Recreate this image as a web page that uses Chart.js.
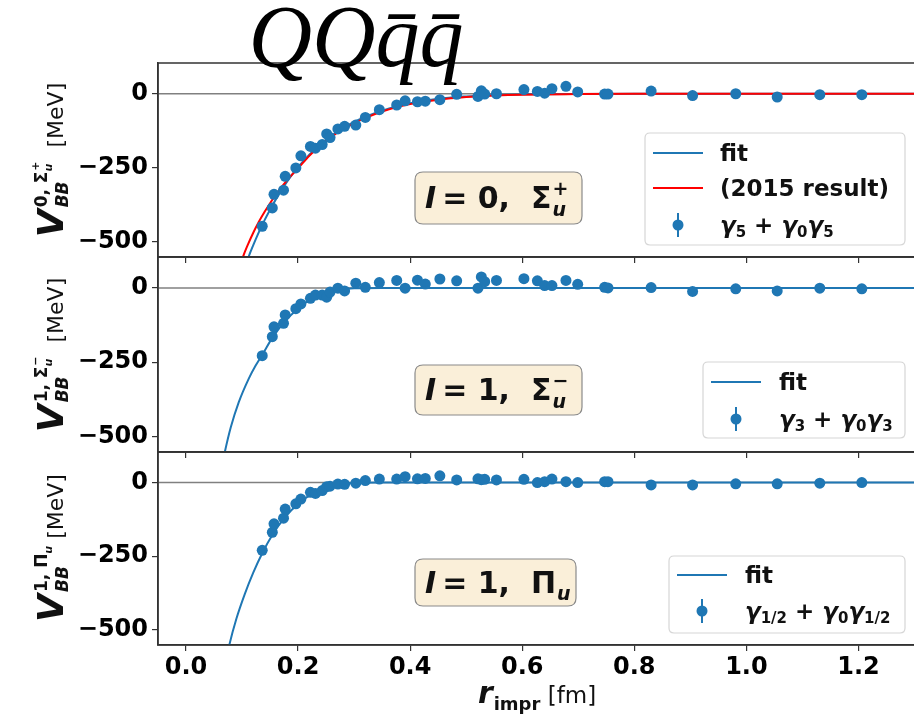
<!DOCTYPE html>
<html><head><meta charset="utf-8">
<script src="https://cdn.jsdelivr.net/npm/chart.js@4/dist/chart.umd.min.js"></script>
<style>
html,body{margin:0;padding:0;background:#fff;overflow:hidden;width:914px;height:718px}
canvas{position:absolute;left:0;top:0}
</style></head><body>
<canvas id="c1" width="920" height="718"></canvas>
<canvas id="c2" width="920" height="718"></canvas>
<canvas id="c3" width="920" height="718"></canvas>
<script>
// ---- data ----
const xTicks = [0.0, 0.2, 0.4, 0.6, 0.8, 1.0, 1.2];
const yTicks = [-500, -250, 0];
const rData = [0.136,0.154,0.157,0.174,0.177,0.196,0.205,0.222,0.231,0.243,0.251,0.257,0.271,0.283,0.303,0.320,0.345,0.376,0.391,0.413,0.427,0.453,0.483,0.521,0.527,0.533,0.554,0.603,0.627,0.640,0.653,0.678,0.699,0.747,0.753,0.830,0.904,0.981,1.055,1.131,1.206];
const vSigmaPlus = [-448,-386,-340,-326,-279,-251,-210,-178,-184,-172,-136,-148,-119,-110,-106,-80,-54,-38,-24,-27,-25,-20,-2,-9,10,-1,0,14,8,2,17,25,6,-1,-1,9,-6,0,-11,-3,-3];
const vSigmaMinus = [-228,-164,-131,-119,-91,-70,-54,-35,-24,-24,-31,-14,-1,-10,16,2,18,25,-1,26,13,30,24,-1,37,21,25,31,24,8,8,25,12,2,0,1,-12,-3,-10,-1,-3];
const vPi = [-230,-169,-140,-121,-90,-72,-56,-33,-37,-27,-14,-12,-5,-6,-2,7,12,12,20,13,14,23,9,13,10,11,9,11,0,3,12,3,0,3,3,-8,-8,-4,-4,-2,0];
// fit curves
const fitR1 = [0.105,0.112,0.12,0.13,0.14,0.15,0.16,0.17,0.18,0.19,0.2,0.22,0.24,0.26,0.28,0.3,0.325,0.35,0.375,0.4,0.45,0.5,0.55,0.6,0.7,0.8,1.3];
const fitV1 = [-590,-550,-512,-468,-428,-392,-358,-327,-298,-272,-248,-206,-171,-141,-116,-95,-74,-57,-43,-32,-17,-9,-4,-2,-0.5,0,0];
const oldR1 = [0.095,0.102,0.11,0.12,0.13,0.14,0.15,0.16,0.175,0.19,0.2,0.22,0.24,0.26,0.28,0.3,0.325,0.35,0.375,0.4,0.45,0.5,0.55,0.6,0.7,0.8,1.3];
const oldV1 = [-595,-550,-512,-470,-433,-400,-370,-342,-305,-272,-252,-210,-175,-145,-120,-99,-78,-60,-46,-35,-20,-11,-6,-3,-1,0,0];
const fitR2 = [0.064,0.069,0.08,0.094,0.112,0.124,0.136,0.154,0.175,0.2,0.225,0.25,0.275,0.3,0.35,1.3];
const fitV2 = [-600,-554,-468,-385,-305,-262,-225,-168,-116,-69,-36,-16,-6,-1.5,0,0];
const fitR3 = [0.072,0.077,0.09,0.105,0.12,0.136,0.154,0.175,0.2,0.225,0.25,0.275,0.3,0.35,1.3];
const fitV3 = [-600,-554,-462,-378,-306,-240,-178,-122,-72,-38,-17,-6,-1.5,0,0];
const zeroR = [-0.05, 1.3];
const zeroV = [0, 0];

const BLUE = '#1f77b4', RED = '#ff0000', INK = '#111';
const pts = (xs, ys) => xs.map((x, i) => ({x, y: ys[i]}));

// ---- rich text helper ----
function rich(ctx, runs, x0, y0, draw) {
  let x = x0, markX = x0, maxX = x0;
  for (const r of runs) {
    if (r.mark) markX = x;
    if (r.back) x = markX;
    ctx.font = r.f;
    if (draw) ctx.fillText(r.t, x, y0 + (r.dy || 0));
    x += ctx.measureText(r.t).width + (r.gap || 0);
    maxX = Math.max(maxX, x);
    if (r.end) x = maxX;
  }
  return maxX - x0;
}
function richCentered(ctx, runs, cx, y) {
  const w = rich(ctx, runs, 0, 0, false);
  rich(ctx, runs, cx - w / 2, y, true);
}
function yLabel(ctx, runs, cx, cy) {
  ctx.save();
  ctx.translate(cx, cy); ctx.rotate(-Math.PI / 2);
  ctx.fillStyle = INK; ctx.textBaseline = 'alphabetic'; ctx.textAlign = 'left';
  richCentered(ctx, runs, 0, 0);
  ctx.restore();
}
function roundRect(ctx, x, y, w, h, r) {
  ctx.beginPath();
  ctx.moveTo(x + r, y); ctx.lineTo(x + w - r, y); ctx.quadraticCurveTo(x + w, y, x + w, y + r);
  ctx.lineTo(x + w, y + h - r); ctx.quadraticCurveTo(x + w, y + h, x + w - r, y + h);
  ctx.lineTo(x + r, y + h); ctx.quadraticCurveTo(x, y + h, x, y + h - r);
  ctx.lineTo(x, y + r); ctx.quadraticCurveTo(x, y, x + r, y); ctx.closePath();
}
function annBox(ctx, box, runs) {
  ctx.save();
  roundRect(ctx, box.x, box.y, box.w, box.h, 8);
  ctx.fillStyle = '#faefd9'; ctx.fill();
  ctx.strokeStyle = '#8a8a8a'; ctx.lineWidth = 1.2; ctx.stroke();
  ctx.fillStyle = INK; ctx.textBaseline = 'alphabetic'; ctx.textAlign = 'left';
  rich(ctx, runs, box.tx, box.ty, true);
  ctx.restore();
}
function legendBox(ctx, box, entries) {
  ctx.save();
  roundRect(ctx, box.x, box.y, box.w, box.h, 5);
  ctx.fillStyle = 'rgba(255,255,255,0.85)'; ctx.fill();
  ctx.strokeStyle = '#d6d6d6'; ctx.lineWidth = 1.2; ctx.stroke();
  ctx.textBaseline = 'alphabetic'; ctx.textAlign = 'left';
  for (const e of entries) {
    const lx = box.x + 8;
    if (e.kind === 'line') {
      ctx.strokeStyle = e.color; ctx.lineWidth = 2;
      ctx.beginPath(); ctx.moveTo(lx, e.y); ctx.lineTo(lx + 50, e.y); ctx.stroke();
    } else {
      ctx.strokeStyle = e.color; ctx.lineWidth = 2;
      ctx.beginPath(); ctx.moveTo(lx + 25, e.y - 12); ctx.lineTo(lx + 25, e.y + 12); ctx.stroke();
      ctx.fillStyle = e.color; ctx.beginPath(); ctx.arc(lx + 25, e.y, 5.5, 0, 2 * Math.PI); ctx.fill();
    }
    ctx.fillStyle = INK;
    rich(ctx, e.runs, box.tx, e.y + 8, true);
  }
  ctx.restore();
}

const B = 'bold 23px "DejaVu Sans"', BI = 'italic bold 23px "DejaVu Sans"', BS = 'bold 15px "DejaVu Sans"';
const fitRuns = [{t: 'fit', f: B}];

// ---- plugin per panel ----
function decor(idx) {
  return {
    id: 'decor' + idx,
    afterDatasetsDraw(chart) {
      const ctx = chart.ctx, a = chart.chartArea;
      ctx.save();
      ctx.strokeStyle = '#333'; ctx.lineWidth = 1.5;
      ctx.beginPath();
      ctx.moveTo(a.right + 2, a.top); ctx.lineTo(a.left, a.top); ctx.lineTo(a.left, a.bottom); ctx.lineTo(a.right + 2, a.bottom);
      ctx.stroke();
      ctx.restore();
    },
    afterDraw(chart) {
      const ctx = chart.ctx;
      const VF = 'italic bold 36px "DejaVu Sans"', SF = 'bold 17px "DejaVu Sans"', SIF = 'italic bold 17px "DejaVu Sans"',
            TF = 'italic bold 11px "DejaVu Sans"', TB = 'bold 11px "DejaVu Sans"', MF = '22px "DejaVu Sans"';
      const AF = 'bold 30px "DejaVu Sans"', AIF = 'italic bold 30px "DejaVu Sans"', AS = 'bold 19px "DejaVu Sans"', ASI = 'italic bold 19px "DejaVu Sans"';
      if (idx === 0) {
        yLabel(ctx, [
          {t: 'V', f: VF, gap: 2},
          {t: '0, Σ', f: SF, dy: -16, mark: true},
          {t: 'u', f: TF, dy: -11, gap: -7},
          {t: '+', f: TB, dy: -24},
          {t: 'BB', f: SIF, dy: 5, back: true, end: true},
          {t: '  [MeV]', f: MF}
        ], 63, 160);
        annBox(ctx, {x: 415, y: 172, w: 167, h: 52, tx: 425, ty: 208}, [
          {t: 'I', f: AIF, gap: 6}, {t: '= 0,  Σ', f: AF, gap: 1},
          {t: '+', f: AS, dy: -13, mark: true}, {t: 'u', f: ASI, dy: 8, back: true, end: true}
        ]);
        legendBox(ctx, {x: 645, y: 133, w: 260, h: 112, tx: 720}, [
          {kind: 'line', color: BLUE, y: 153, runs: fitRuns},
          {kind: 'line', color: RED, y: 188, runs: [{t: '(2015 result)', f: B}]},
          {kind: 'err', color: BLUE, y: 225, runs: [
            {t: 'γ', f: BI}, {t: '5', f: BS, dy: 4}, {t: ' + ', f: B}, {t: 'γ', f: BI}, {t: '0', f: BS, dy: 4},
            {t: 'γ', f: BI}, {t: '5', f: BS, dy: 4}]}
        ]);
        // title
        ctx.save();
        ctx.fillStyle = '#000'; ctx.textAlign = 'center'; ctx.textBaseline = 'alphabetic';
        ctx.font = 'italic 88px "Liberation Serif"';
        ctx.fillText('QQq\u0304q\u0304', 356, 66);
        ctx.restore();
      } else if (idx === 1) {
        yLabel(ctx, [
          {t: 'V', f: VF, gap: 2},
          {t: '1, Σ', f: SF, dy: -16, mark: true},
          {t: 'u', f: TF, dy: -11, gap: -7},
          {t: '−', f: TB, dy: -24},
          {t: 'BB', f: SIF, dy: 5, back: true, end: true},
          {t: '  [MeV]', f: MF}
        ], 63, 355);
        annBox(ctx, {x: 415, y: 365, w: 167, h: 50, tx: 425, ty: 400}, [
          {t: 'I', f: AIF, gap: 6}, {t: '= 1,  Σ', f: AF, gap: 1},
          {t: '−', f: AS, dy: -13, mark: true}, {t: 'u', f: ASI, dy: 8, back: true, end: true}
        ]);
        legendBox(ctx, {x: 703, y: 362, w: 202, h: 76, tx: 779}, [
          {kind: 'line', color: BLUE, y: 382, runs: fitRuns},
          {kind: 'err', color: BLUE, y: 419, runs: [
            {t: 'γ', f: BI}, {t: '3', f: BS, dy: 4}, {t: ' + ', f: B}, {t: 'γ', f: BI}, {t: '0', f: BS, dy: 4},
            {t: 'γ', f: BI}, {t: '3', f: BS, dy: 4}]}
        ]);
      } else {
        yLabel(ctx, [
          {t: 'V', f: VF, gap: 2},
          {t: '1, Π', f: SF, dy: -16, mark: true},
          {t: 'u', f: TF, dy: -11},
          {t: 'BB', f: SIF, dy: 5, back: true, end: true},
          {t: ' [MeV]', f: MF}
        ], 63, 548);
        annBox(ctx, {x: 415, y: 559, w: 161, h: 47, tx: 425, ty: 593}, [
          {t: 'I', f: AIF, gap: 6}, {t: '= 1,  Π', f: AF, gap: 1},
          {t: 'u', f: ASI, dy: 7}
        ]);
        legendBox(ctx, {x: 669, y: 556, w: 236, h: 77, tx: 745}, [
          {kind: 'line', color: BLUE, y: 575, runs: fitRuns},
          {kind: 'err', color: BLUE, y: 611, runs: [
            {t: 'γ', f: BI}, {t: '1/2', f: BS, dy: 4}, {t: ' + ', f: B}, {t: 'γ', f: BI}, {t: '0', f: BS, dy: 4},
            {t: 'γ', f: BI}, {t: '1/2', f: BS, dy: 4}]}
        ]);
        // x-axis title
        ctx.save();
        ctx.fillStyle = INK; ctx.textAlign = 'left'; ctx.textBaseline = 'alphabetic';
        richCentered(ctx, [
          {t: 'r', f: 'italic bold 30px "DejaVu Sans"', gap: 1},
          {t: 'impr', f: 'bold 18px "DejaVu Sans"', dy: 7},
          {t: ' [fm]', f: '23px "DejaVu Sans"'}
        ], 537, 703);
        ctx.restore();
      }
    }
  };
}

const tickFont = {family: 'DejaVu Sans', size: 24, weight: 'bold'};
function makePanel(id, idx, datasets, top, bottom, showX) {
  const xAxisH = showX ? 718 - bottom : 0;
  return new Chart(document.getElementById(id), {
    type: 'scatter',
    data: {datasets},
    options: {
      responsive: false, animation: false, devicePixelRatio: 1,
      layout: {padding: {left: 0, right: 4, top: top, bottom: showX ? 0 : 718 - bottom}},
      plugins: {legend: {display: false}, tooltip: {enabled: false}},
      scales: {
        x: {
          type: 'linear', min: -0.05, max: 1.3, position: 'bottom',
          afterBuildTicks: s => { s.ticks = xTicks.map(v => ({value: v})); },
          afterFit: s => { s.height = xAxisH; },
          grid: {drawOnChartArea: false, drawTicks: true, tickLength: 6, color: '#333', lineWidth: 1.2},
          border: {display: true, color: '#333', width: 1.5},
          ticks: {display: showX, autoSkip: false, maxRotation: 0, font: tickFont, color: '#000', padding: 2,
                  callback: v => Number(v).toFixed(1)}
        },
        y: {
          type: 'linear', min: -552, max: 104,
          afterBuildTicks: s => { s.ticks = yTicks.map(v => ({value: v})); },
          afterFit: s => { s.width = 158; },
          grid: {drawOnChartArea: false, drawTicks: true, tickLength: 6, color: '#333', lineWidth: 1.2},
          border: {display: true, color: '#333', width: 1.5},
          ticks: {autoSkip: false, font: tickFont, color: '#000', padding: 4,
                  callback: v => (v < 0 ? '\u2212' + Math.abs(v) : String(v))}
        }
      }
    },
    plugins: [decor(idx)]
  });
}
function lineDS(data, color, order, w) {
  return {type: 'line', data, showLine: true, borderColor: color, borderWidth: w || 2, pointRadius: 0,
          cubicInterpolationMode: 'monotone', fill: false, order};
}
function ptsDS(data) {
  return {type: 'scatter', data, backgroundColor: BLUE, borderColor: BLUE, borderWidth: 0, pointRadius: 5.5, order: 0};
}

makePanel('c1', 0, [
  ptsDS(pts(rData, vSigmaPlus)),
  lineDS(pts(oldR1, oldV1), RED, 1),
  lineDS(pts(fitR1, fitV1), BLUE, 2),
  lineDS(pts(zeroR, zeroV), '#808080', 3, 1.5)
], 63, 257, false);
makePanel('c2', 1, [
  ptsDS(pts(rData, vSigmaMinus)),
  lineDS(pts(fitR2, fitV2), BLUE, 2),
  lineDS(pts(zeroR, zeroV), '#808080', 3, 1.5)
], 257, 452, false);
makePanel('c3', 2, [
  ptsDS(pts(rData, vPi)),
  lineDS(pts(fitR3, fitV3), BLUE, 2),
  lineDS(pts(zeroR, zeroV), '#808080', 3, 1.5)
], 452, 645, true);
</script>
</body></html>
